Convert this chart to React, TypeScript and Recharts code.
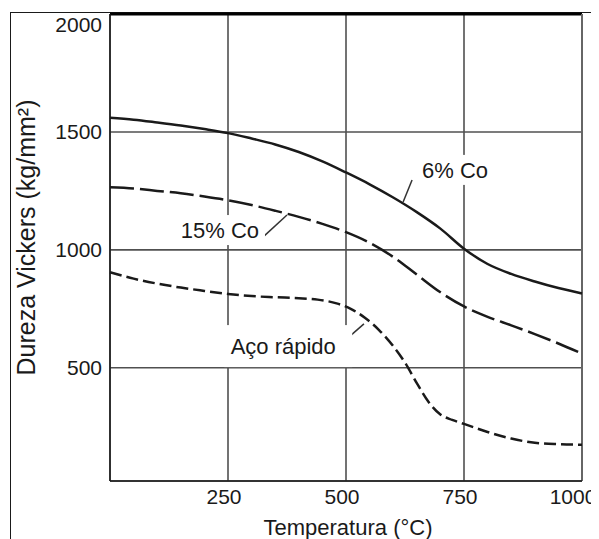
import React from 'react';
import {
  LineChart,
  Line,
  XAxis,
  YAxis,
  CartesianGrid,
  ReferenceLine,
  ReferenceDot,
} from 'recharts';

const FONT = '"Liberation Sans", Arial, Helvetica, sans-serif';
const INK = '#1a1a1a';

// Axis ticks
const tempTicks = [250, 500, 750, 1000];
const hardnessTicks = [500, 1000, 1500, 2000];

// 6% Co carbide (solid curve)
const co6Temp = [0, 50, 100, 150, 200, 250, 300, 350, 400, 450, 500, 550, 600, 650, 700, 750, 800, 850, 900, 950, 1000];
const co6Hardness = [1560, 1552, 1540, 1527, 1512, 1495, 1472, 1447, 1415, 1375, 1328, 1278, 1222, 1160, 1090, 1005, 940, 898, 866, 838, 815];

// 15% Co carbide (long dashes)
const co15Temp = [0, 50, 100, 150, 200, 250, 300, 350, 400, 450, 500, 550, 600, 650, 700, 750, 800, 850, 900, 950, 1000];
const co15Hardness = [1265, 1260, 1250, 1240, 1226, 1210, 1190, 1166, 1140, 1110, 1075, 1030, 970, 895, 820, 760, 716, 680, 643, 603, 560];

// High-speed steel (short dashes)
const hssTemp = [0, 50, 100, 150, 200, 250, 300, 350, 400, 440, 480, 510, 540, 570, 600, 625, 650, 675, 700, 725, 750, 800, 850, 900, 950, 1000];
const hssHardness = [905, 878, 857, 840, 826, 813, 804, 799, 795, 789, 773, 750, 712, 660, 592, 522, 435, 355, 302, 279, 262, 228, 200, 182, 176, 174];

const toRows = (temps: number[], values: number[]) =>
  temps.map((t, i) => ({ t, hv: values[i] }));

const co6Rows = toRows(co6Temp, co6Hardness);
const co15Rows = toRows(co15Temp, co15Hardness);
const hssRows = toRows(hssTemp, hssHardness);

// Curve callouts: text anchor, leader line, and white backing box
const callouts = [
  { text: '6% Co', at: { x: 731, y: 1339 }, lead: [{ x: 640, y: 1296 }, { x: 621, y: 1203 }], w: 82, h: 30, dx: 0 },
  { text: '15% Co', at: { x: 233, y: 1084 }, lead: [{ x: 324, y: 1054 }, { x: 375, y: 1148 }], w: 90, h: 30, dx: 0 },
  { text: 'Aço rápido', at: { x: 367, y: 592 }, lead: [{ x: 487, y: 597 }, { x: 538, y: 686 }], w: 128, h: 42, dx: 5 },
];

const YTick = (props: any) => {
  const { x, y, payload } = props;
  // the top label sits just below the plot's upper edge
  const shift = payload.value === 2000 ? 11 : 0;
  return (
    <text x={x} y={y + shift} dy="0.355em" textAnchor="end" fill={INK} fontSize={21} fontFamily={FONT}>
      {payload.value}
    </text>
  );
};

const XTick = (props: any) => {
  const { x, y, payload } = props;
  // the last label is pulled inward so it stays inside the frame
  const shift = payload.value === 1000 ? -9 : -4;
  return (
    <text x={x + shift} y={y} dy="0.71em" textAnchor="middle" fill={INK} fontSize={21} fontFamily={FONT}>
      {payload.value}
    </text>
  );
};

const XTitle = (props: any) => {
  const vb = props.viewBox || {};
  return (
    <text x={vb.x + vb.width / 2 + 2} y={vb.y + 54} textAnchor="middle" fill={INK} fontSize={22} fontFamily={FONT}>
      Temperatura (°C)
    </text>
  );
};

const YTitle = (props: any) => {
  const vb = props.viewBox || {};
  const cx = vb.x + 18;
  const cy = vb.y + vb.height / 2 - 10;
  return (
    <text
      x={cx}
      y={cy}
      transform={`rotate(-90 ${cx} ${cy})`}
      textAnchor="middle"
      dominantBaseline="central"
      fill={INK}
      fontSize={25}
      fontFamily={FONT}
    >
      Dureza Vickers (kg/mm²)
    </text>
  );
};

const calloutShape = (text: string, w: number, h: number, dx: number) => (props: any) => {
  const { cx, cy } = props;
  return (
    <g>
      <rect x={cx - w / 2 + dx} y={cy - h / 2} width={w} height={h} fill="#ffffff" />
      <text x={cx} y={cy} dy="0.355em" textAnchor="middle" fill={INK} fontSize={22} fontFamily={FONT}>
        {text}
      </text>
    </g>
  );
};

export default function App() {
  return (
    <div style={{ position: 'relative', width: 591, height: 531, overflow: 'hidden', background: '#fff' }}>
      <div
        style={{
          position: 'absolute',
          left: 2,
          top: 4,
          width: 640,
          height: 640,
          borderLeft: `1.5px solid ${INK}`,
          borderTop: `1.5px solid ${INK}`,
        }}
      />
      <LineChart width={591} height={531} margin={{ top: 6, right: 17, bottom: 2, left: 0 }}>
        <CartesianGrid stroke="#505050" strokeWidth={1.6} />
        <XAxis
          type="number"
          dataKey="t"
          domain={[0, 1000]}
          ticks={tempTicks}
          interval={0}
          height={56}
          tickLine={false}
          tickSize={6}
          tickMargin={2}
          axisLine={{ stroke: INK, strokeWidth: 1.5 }}
          tick={<XTick />}
          label={<XTitle />}
        />
        <YAxis
          type="number"
          dataKey="hv"
          domain={[20, 2000]}
          allowDataOverflow
          ticks={hardnessTicks}
          interval={0}
          width={102}
          tickLine={false}
          tickSize={6}
          tickMargin={2}
          axisLine={{ stroke: INK, strokeWidth: 1.5 }}
          tick={<YTick />}
          label={<YTitle />}
        />
        <ReferenceLine y={2000} stroke="#000" strokeWidth={3} />
        <ReferenceLine x={1000} stroke="#666" strokeWidth={2} />
        {callouts.map((c) => (
          <ReferenceDot
            key={c.text}
            x={c.at.x}
            y={c.at.y}
            r={1}
            shape={calloutShape(c.text, c.w, c.h, c.dx)}
          />
        ))}
        {callouts.map((c) => (
          <ReferenceLine key={c.text + '-lead'} segment={c.lead} stroke="#333" strokeWidth={1.5} />
        ))}
        <Line
          data={co6Rows}
          dataKey="hv"
          type="monotone"
          stroke={INK}
          strokeWidth={2.5}
          dot={false}
          isAnimationActive={false}
        />
        <Line
          data={co15Rows}
          dataKey="hv"
          type="monotone"
          stroke={INK}
          strokeWidth={2.5}
          strokeDasharray="24 6"
          dot={false}
          isAnimationActive={false}
        />
        <Line
          data={hssRows}
          dataKey="hv"
          type="monotone"
          stroke={INK}
          strokeWidth={2.5}
          strokeDasharray="12 5"
          dot={false}
          isAnimationActive={false}
        />
      </LineChart>
    </div>
  );
}
